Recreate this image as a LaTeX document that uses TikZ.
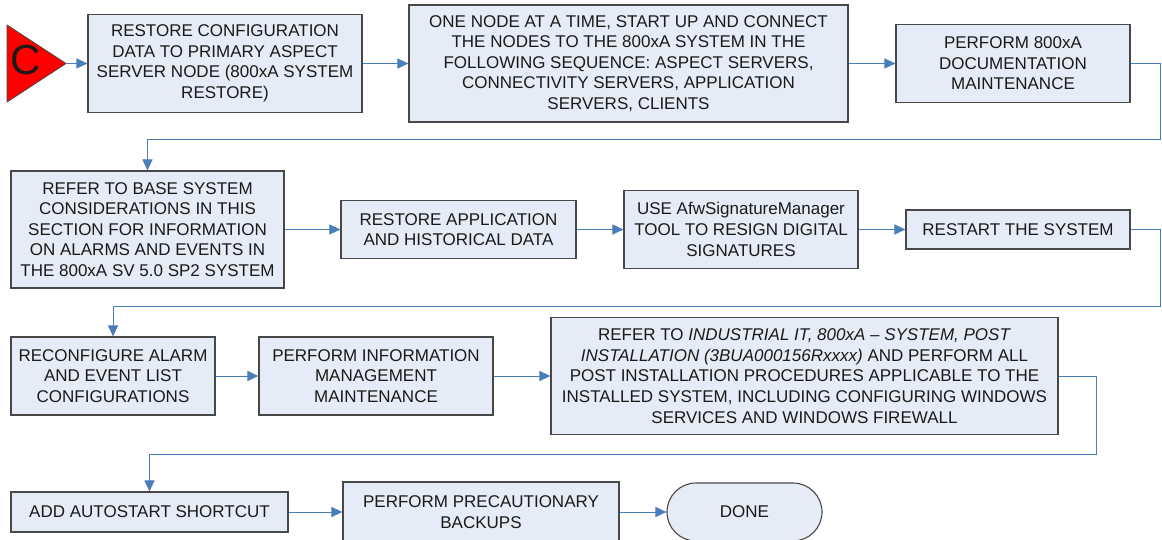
\documentclass[tikz,border=0pt]{standalone}
\usepackage{fontspec}
\setmainfont{Liberation Sans}
\usetikzlibrary{arrows.meta,shapes.misc}
\definecolor{boxfill}{RGB}{230,236,247}
\definecolor{boxline}{RGB}{72,72,72}
\definecolor{flowblue}{RGB}{74,126,187}
\definecolor{inktext}{RGB}{26,26,26}

\begin{document}
\begin{tikzpicture}[
    x=1pt,
    y=-1pt,
    stepbox/.style={draw=boxline, fill=boxfill, line width=1.1pt, align=center,
      inner sep=0pt, text=inktext, font=\fontsize{17}{20.6}\selectfont},
    endbox/.style={stepbox, rounded rectangle},
    flow/.style={draw=flowblue, line width=1pt, -{Triangle[length=11pt,width=10pt]}},
  ]
  \useasboundingbox (0,0) rectangle (1162,540);
  % start marker
  \filldraw[fill=red, draw=boxline, line width=0.8pt] (7,25) -- (66,63.5) -- (7,102) -- cycle;
  \coordinate (ctip) at (66,63.5);
  \node[text=inktext, font=\fontsize{42}{42}\selectfont] (cmark) at (26,60) {C};
  % row 1
  \node[stepbox, minimum width=274pt, minimum height=98pt] (b1) at (225,63.5)
    {RESTORE CONFIGURATION\\DATA TO PRIMARY ASPECT\\SERVER NODE (800xA SYSTEM\\RESTORE)};
  \node[stepbox, minimum width=439pt, minimum height=117pt] (b2) at (628.5,63.5)
    {ONE NODE AT A TIME, START UP AND CONNECT\\THE NODES TO THE 800xA SYSTEM IN THE\\FOLLOWING SEQUENCE: ASPECT SERVERS,\\CONNECTIVITY SERVERS, APPLICATION\\SERVERS, CLIENTS};
  \node[stepbox, minimum width=234pt, minimum height=78pt] (b3) at (1013,63.5)
    {PERFORM 800xA\\DOCUMENTATION\\MAINTENANCE};
  % row 2
  \node[stepbox, minimum width=273pt, minimum height=117pt] (b4) at (147.5,229.5)
    {REFER TO BASE SYSTEM\\CONSIDERATIONS IN THIS\\SECTION FOR INFORMATION\\ON ALARMS AND EVENTS IN\\THE 800xA SV 5.0 SP2 SYSTEM};
  \node[stepbox, minimum width=235pt, minimum height=58pt] (b5) at (458.5,229.5)
    {RESTORE APPLICATION\\AND HISTORICAL DATA};
  \node[stepbox, minimum width=234pt, minimum height=78pt] (b6) at (741,229.5)
    {USE AfwSignatureManager\\TOOL TO RESIGN DIGITAL\\SIGNATURES};
  \node[stepbox, minimum width=224pt, minimum height=39pt] (b7) at (1018,229.5)
    {RESTART THE SYSTEM};
  % row 3
  \node[stepbox, minimum width=204pt, minimum height=78pt] (b8) at (113,376)
    {RECONFIGURE ALARM\\AND EVENT LIST\\CONFIGURATIONS};
  \node[stepbox, minimum width=234pt, minimum height=78pt] (b9) at (376,376)
    {PERFORM INFORMATION\\MANAGEMENT\\MAINTENANCE};
  \node[stepbox, minimum width=507pt, minimum height=117pt] (b10) at (804.5,376)
    {REFER TO \textit{INDUSTRIAL IT, 800xA – SYSTEM, POST}\\\textit{INSTALLATION (3BUA000156Rxxxx)} AND PERFORM ALL\\POST INSTALLATION PROCEDURES APPLICABLE TO THE\\INSTALLED SYSTEM, INCLUDING CONFIGURING WINDOWS\\SERVICES AND WINDOWS FIREWALL};
  % row 4
  \node[stepbox, minimum width=277pt, minimum height=40pt] (b11) at (149.5,512)
    {ADD AUTOSTART SHORTCUT};
  \node[stepbox, minimum width=276pt, minimum height=60pt] (b12) at (481,512)
    {PERFORM PRECAUTIONARY\\BACKUPS};
  \node[endbox, minimum width=155pt, minimum height=58pt] (done) at (744.5,512) {DONE};
  % bends between rows
  \coordinate (r1) at (1160,140);
  \coordinate (r2) at (1160,306);
  \coordinate (r3) at (1096,454);
  % connectors
  \draw[flow] (ctip) -- (b1);
  \foreach \a/\b in {b1/b2, b2/b3, b4/b5, b5/b6, b6/b7, b8/b9, b9/b10, b11/b12, b12/done}
    \draw[flow] (\a) -- (\b);
  \draw[flow] (b3.east) -| (r1) -| (b4.north);
  \draw[flow] (b7.east) -| (r2) -| (b8.north);
  \draw[flow] (b10.east) -| (r3) -| (b11.north);
\end{tikzpicture}
\end{document}
